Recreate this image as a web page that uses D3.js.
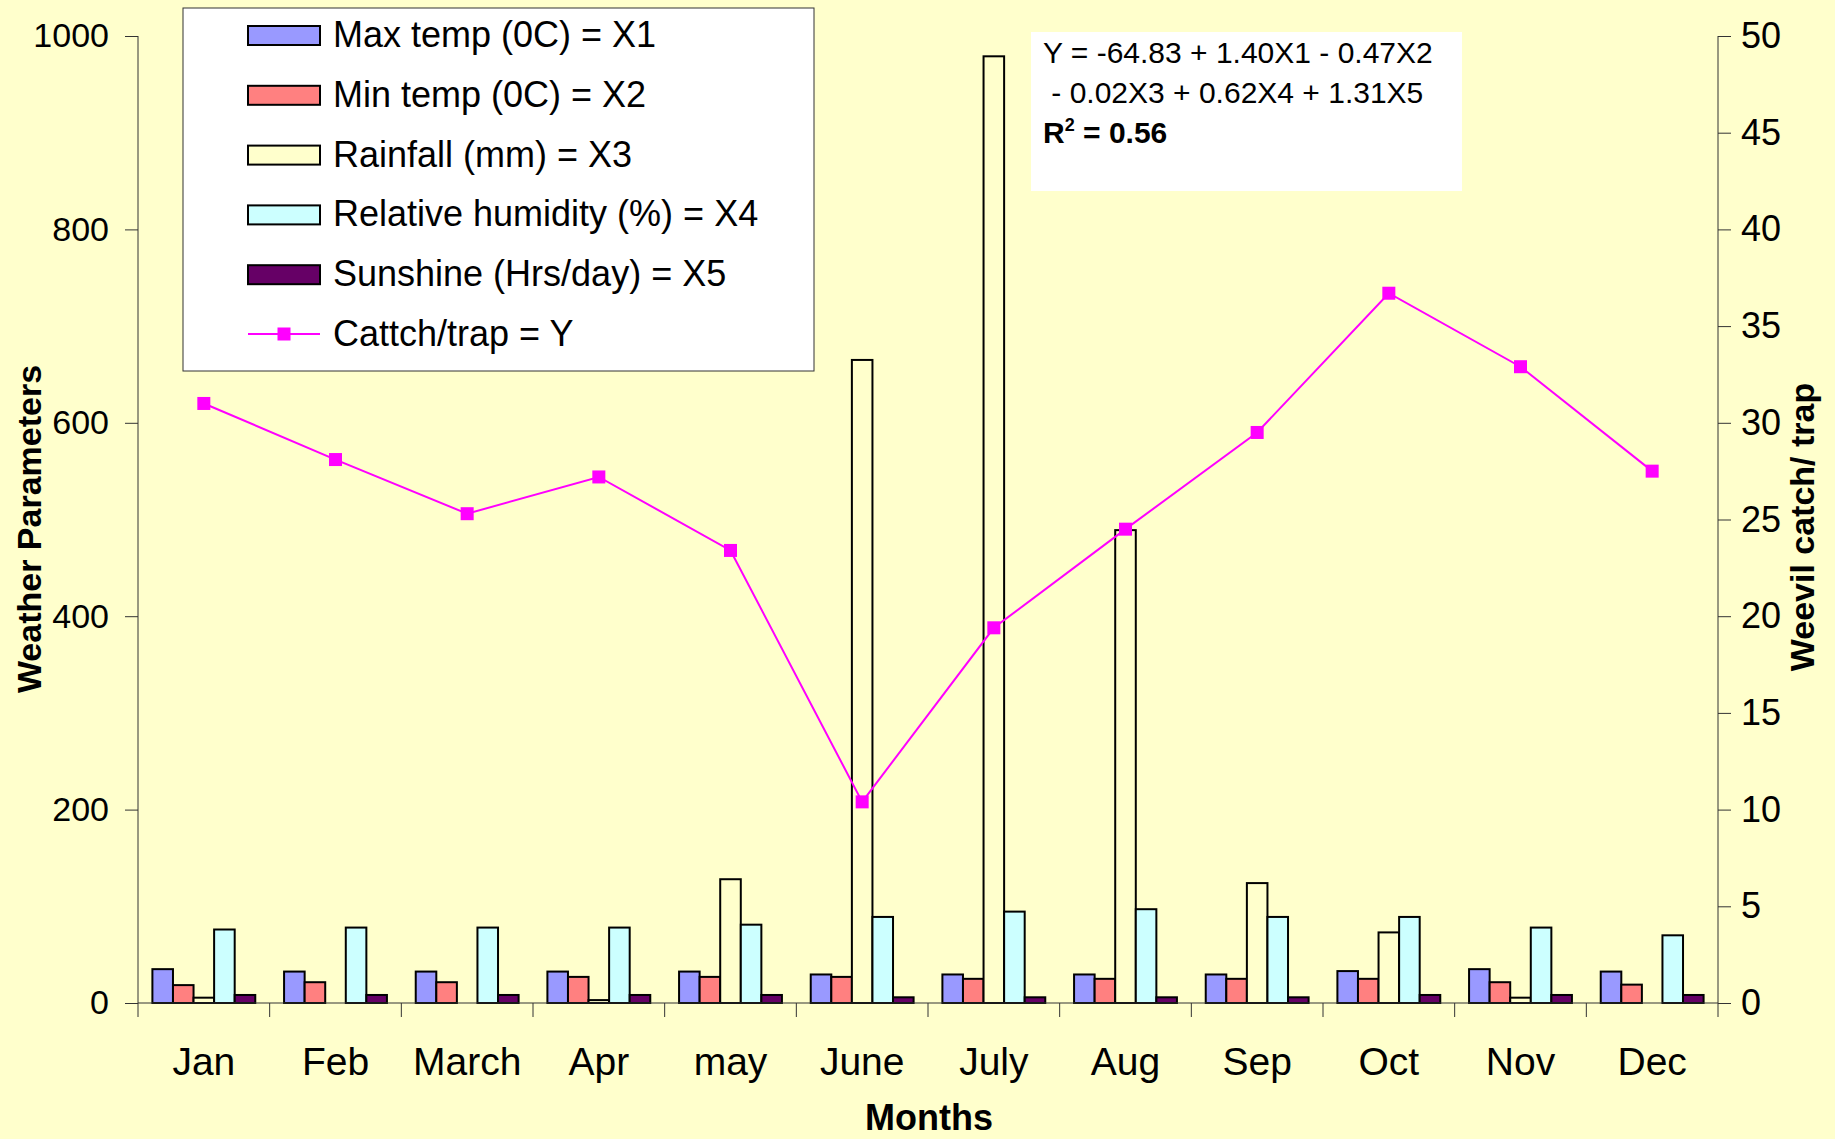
<!DOCTYPE html>
<html>
<head>
<meta charset="utf-8">
<script src="https://cdn.jsdelivr.net/npm/d3@7"></script>
<style>
  html, body { margin: 0; padding: 0; background: #ffffcc; }
  svg { display: block; font-family: 'Liberation Sans', Arial, sans-serif; }
</style>
</head>
<body>
<svg id="chart"></svg>
<script>
const months = ['Jan', 'Feb', 'March', 'Apr', 'may', 'June', 'July', 'Aug', 'Sep', 'Oct', 'Nov', 'Dec'];
const maxTemp = [35, 32.5, 32.5, 32.5, 32.5, 29.5, 29.5, 29.5, 29.5, 33, 35, 32.5];
const minTemp = [18.5, 21.5, 21.5, 27, 27, 27, 25, 25, 25, 25, 21.5, 19];
const rainfall = [5.5, 0, 0, 3, 128, 665, 979, 489, 124, 73, 5.5, 0];
const humidity = [76, 78, 78, 78, 81, 89, 94.5, 97, 89, 89, 78, 70];
const sunshine = [8.3, 8.3, 8.3, 8.3, 8.3, 5.9, 5.9, 5.9, 5.9, 8.3, 8.3, 8.3];
const catchPerTrap = [31.0, 28.1, 25.3, 27.2, 23.4, 10.4, 19.4, 24.5, 29.5, 36.7, 32.9, 27.5];
const leftTicks = [0, 200, 400, 600, 800, 1000];
const rightTicks = [0, 5, 10, 15, 20, 25, 30, 35, 40, 45, 50];

const series = [
  { key: 'x1', label: 'Max temp (0C) = X1', values: maxTemp, color: '#9999ff' },
  { key: 'x2', label: 'Min temp (0C) = X2', values: minTemp, color: '#ff8080' },
  { key: 'x3', label: 'Rainfall (mm) = X3', values: rainfall, color: '#ffffcc' },
  { key: 'x4', label: 'Relative humidity (%) = X4', values: humidity, color: '#ccffff' },
  { key: 'x5', label: 'Sunshine (Hrs/day) = X5', values: sunshine, color: '#660066' }
];

const width = 1835;
const height = 1139;
const plotLeft = 138, plotRight = 1718, plotTop = 36, plotBottom = 1003;

const svg = d3.select('#chart').attr('width', width).attr('height', height);
svg.append('rect').attr('width', width).attr('height', height).attr('fill', '#ffffcc');

const x0 = d3.scaleBand().domain(months).range([plotLeft, plotRight]).padding(0);
const x1 = d3.scaleBand().domain(series.map((s) => s.key)).range([0, x0.bandwidth()]).paddingInner(0).paddingOuter(0.7);
const y = d3.scaleLinear().domain([0, 1000]).range([plotBottom, plotTop]);
const y2 = d3.scaleLinear().domain([0, 50]).range([plotBottom, plotTop]);

// bars
const groups = svg.append('g')
  .selectAll('g')
  .data(months)
  .join('g')
  .attr('transform', (d) => `translate(${x0(d)},0)`);

groups.selectAll('rect')
  .data((m, i) => series.map((s) => ({ key: s.key, color: s.color, value: s.values[i] })))
  .join('rect')
  .attr('x', (d) => x1(d.key))
  .attr('width', x1.bandwidth())
  .attr('y', (d) => y(d.value))
  .attr('height', (d) => plotBottom - y(d.value))
  .attr('fill', (d) => d.color)
  .attr('stroke', '#000')
  .attr('stroke-width', 2);

// axes
const axisColor = '#333';
const leftAxis = svg.append('g')
  .attr('transform', `translate(${plotLeft},0)`)
  .call(d3.axisLeft(y).tickValues(leftTicks).tickFormat(d3.format('d')).tickSize(13).tickPadding(16).tickSizeOuter(0));
leftAxis.select('.domain').remove();
leftAxis.append('line').attr('x1', 0).attr('x2', 0).attr('y1', plotTop).attr('y2', plotBottom + 14).attr('stroke', axisColor);
leftAxis.selectAll('.tick text').attr('font-size', 34);

const rightAxis = svg.append('g')
  .attr('transform', `translate(${plotRight},0)`)
  .call(d3.axisRight(y2).tickValues(rightTicks).tickSize(13).tickPadding(10).tickSizeOuter(0));
rightAxis.select('.domain').remove();
rightAxis.append('line').attr('x1', 0).attr('x2', 0).attr('y1', plotTop).attr('y2', plotBottom + 14).attr('stroke', axisColor);
rightAxis.selectAll('.tick text').attr('font-size', 36);

const bottomAxis = svg.append('g').attr('transform', `translate(0,${plotBottom})`);
bottomAxis.append('line').attr('x1', plotLeft).attr('x2', plotRight).attr('stroke', axisColor);
bottomAxis.selectAll('.mtick')
  .data(months.slice(1))
  .join('line')
  .attr('class', 'mtick')
  .attr('x1', (d) => x0(d))
  .attr('x2', (d) => x0(d))
  .attr('y1', 0)
  .attr('y2', 14)
  .attr('stroke', axisColor);
bottomAxis.selectAll('.mlabel')
  .data(months)
  .join('text')
  .attr('class', 'mlabel')
  .attr('x', (d) => x0(d) + x0.bandwidth() / 2)
  .attr('y', 72)
  .attr('text-anchor', 'middle')
  .attr('font-size', 39)
  .attr('fill', '#000')
  .text((d) => d);

svg.selectAll('.tick line').attr('stroke', axisColor);
svg.selectAll('.tick text').attr('fill', '#000').attr('font-family', "'Liberation Sans', Arial, sans-serif");

// catch line
const line = d3.line()
  .x((d, i) => x0(months[i]) + x0.bandwidth() / 2)
  .y((d) => y2(d));
svg.append('path')
  .datum(catchPerTrap)
  .attr('d', line)
  .attr('fill', 'none')
  .attr('stroke', '#ff00ff')
  .attr('stroke-width', 2);
svg.selectAll('.marker')
  .data(catchPerTrap)
  .join('rect')
  .attr('class', 'marker')
  .attr('x', (d, i) => x0(months[i]) + x0.bandwidth() / 2 - 6.5)
  .attr('y', (d) => y2(d) - 6.5)
  .attr('width', 13)
  .attr('height', 13)
  .attr('fill', '#ff00ff');

// axis titles
svg.append('text')
  .attr('transform', 'translate(41,529) rotate(-90)')
  .attr('text-anchor', 'middle')
  .attr('font-size', 34)
  .attr('font-weight', 'bold')
  .text('Weather Parameters');
svg.append('text')
  .attr('transform', 'translate(1814,527) rotate(-90)')
  .attr('text-anchor', 'middle')
  .attr('font-size', 34)
  .attr('font-weight', 'bold')
  .text('Weevil catch/ trap');
svg.append('text')
  .attr('x', 929)
  .attr('y', 1130)
  .attr('text-anchor', 'middle')
  .attr('font-size', 36)
  .attr('font-weight', 'bold')
  .text('Months');

// legend
const legend = svg.append('g');
legend.append('rect')
  .attr('x', 183).attr('y', 8).attr('width', 631).attr('height', 363)
  .attr('fill', '#ffffff').attr('stroke', '#333').attr('stroke-width', 1);
const rowY = (i) => 35 + i * 59.8;
series.forEach((s, i) => {
  legend.append('rect')
    .attr('x', 248).attr('y', rowY(i) - 9).attr('width', 72).attr('height', 19)
    .attr('fill', s.color).attr('stroke', '#000').attr('stroke-width', 2);
  legend.append('text')
    .attr('x', 333).attr('y', rowY(i) + 12)
    .attr('font-size', 36)
    .text(s.label);
});
legend.append('line')
  .attr('x1', 248).attr('x2', 320).attr('y1', rowY(5)).attr('y2', rowY(5))
  .attr('stroke', '#ff00ff').attr('stroke-width', 2);
legend.append('rect')
  .attr('x', 284 - 6.5).attr('y', rowY(5) - 6.5).attr('width', 13).attr('height', 13)
  .attr('fill', '#ff00ff');
legend.append('text')
  .attr('x', 333).attr('y', rowY(5) + 12)
  .attr('font-size', 36)
  .text('Cattch/trap = Y');

// regression box
const eq = svg.append('g');
eq.append('rect')
  .attr('x', 1031).attr('y', 32).attr('width', 431).attr('height', 159)
  .attr('fill', '#ffffff');
eq.append('text').attr('x', 1043).attr('y', 63).attr('font-size', 30)
  .text('Y = -64.83 + 1.40X1 - 0.47X2');
eq.append('text').attr('x', 1043).attr('y', 103).attr('font-size', 30)
  .text('\u00a0- 0.02X3 + 0.62X4 + 1.31X5');
const r2 = eq.append('text').attr('x', 1043).attr('y', 143).attr('font-size', 30).attr('font-weight', 'bold');
r2.append('tspan').text('R');
r2.append('tspan').attr('font-size', 18).attr('dy', -12).text('2');
r2.append('tspan').attr('dy', 12).text(' = 0.56');
</script>
</body>
</html>
